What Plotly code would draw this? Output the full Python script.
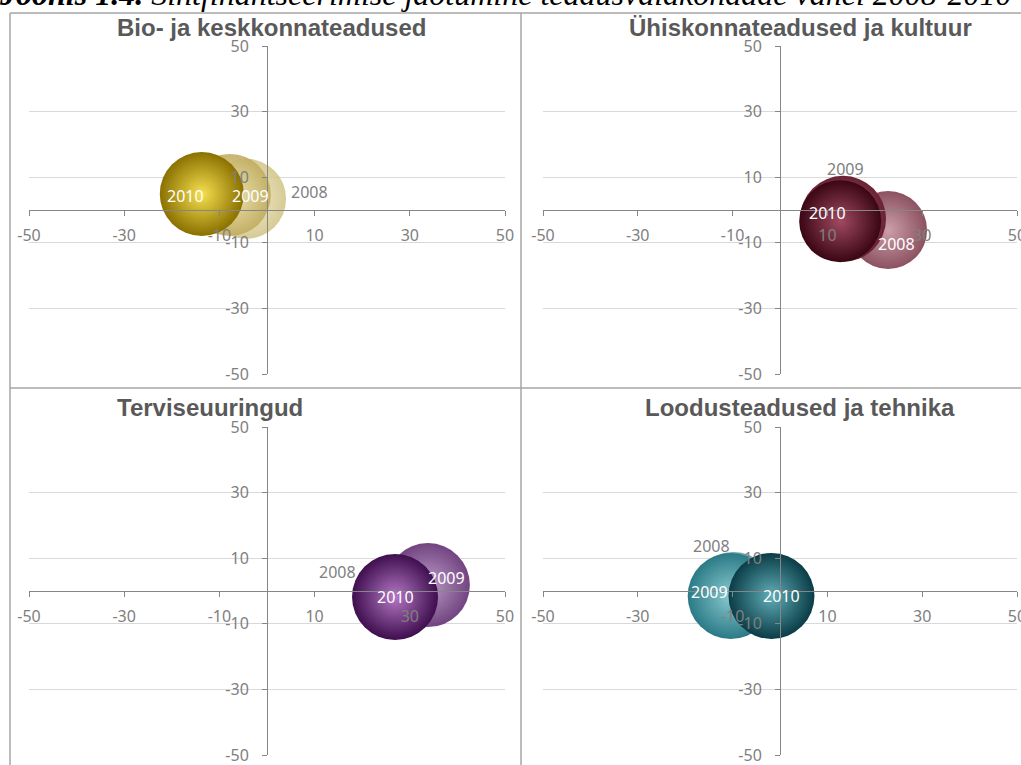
import plotly.graph_objects as go

W, H = 1021, 765

years = ["2008", "2009", "2010"]
tick_values = [-50, -30, -10, 10, 30, 50]
tick_labels = ["-50", "-30", "-10", "10", "30", "50"]

# Bio- ja keskkonnateadused
bio_x = [-4.4, -7.8, -13.7]
bio_y = [3.4, 4.6, 4.9]
bio_size = [20.0, 20.5, 21.0]

# Ühiskonnateadused ja kultuur
soc_x = [22.8, 13.3, 12.7]
soc_y = [-6.1, -2.7, -3.4]
soc_size = [19.5, 21.5, 20.5]

# Terviseuuringud
health_x = [26.9, 33.8, 26.9]
health_y = [-1.2, 1.8, -1.8]
health_size = [20.0, 21.0, 21.5]

# Loodusteadused ja tehnika
nat_x = [-9.8, -10.4, -1.8]
nat_y = [-0.9, -1.5, -1.5]
nat_size = [21.0, 21.5, 21.5]

SIZEREF = 0.25  # bubble value -> marker diameter (px)


def px_x(p):
    return p / W


def px_y(p):
    return 1 - p / H


GRAY_TXT = "#7f7f7f"
AXIS_CLR = "#868686"
GRID_CLR = "#d9d9d9"
FONT = "Noto Sans"

# styles: (centre colour, rim colour, opacity) per year
panels = [
    dict(title="Bio- ja keskkonnateadused", x=bio_x, y=bio_y, s=bio_size,
         xd=(29, 505), yd=(46, 374), title_pos=(271, 28),
         styles=[("#f0eacc", "#d0c282", 0.85), ("#eee4b0", "#c0ac5e", 0.9),
                 ("#f6e050", "#8a7000", 1.0)],
         labels=[(63, 7, GRAY_TXT), (21, -1, "white"), (-16, -2, "white")]),
    dict(title="Ühiskonnateadused ja kultuur", x=soc_x, y=soc_y, s=soc_size,
         xd=(543, 1017), yd=(46, 374), title_pos=(800, 28),
         styles=[("#c89aa6", "#864858", 0.95), ("#a85c70", "#6a2236", 1.0),
                 ("#a04a62", "#3a0614", 1.0)],
         labels=[(8, -14, "white"), (2, 50, GRAY_TXT), (-13, 8, "white")]),
    dict(title="Terviseuuringud", x=health_x, y=health_y, s=health_size,
         xd=(29, 505), yd=(427, 755), title_pos=(210, 407),
         styles=[("#b896c4", "#6e3e7e", 0.95), ("#b896c4", "#6a3a7a", 0.95),
                 ("#b478c4", "#3e0e4e", 1.0)],
         labels=[(-58, 23, GRAY_TXT), (19, 7, "white"), (0, 0, "white")]),
    dict(title="Loodusteadused ja tehnika", x=nat_x, y=nat_y, s=nat_size,
         xd=(543, 1017), yd=(427, 755), title_pos=(800, 407),
         styles=[("#acd6da", "#5a9ca4", 0.9), ("#8ccad0", "#2a7a86", 1.0),
                 ("#60aeb8", "#0a3c46", 1.0)],
         labels=[(-22, 48, GRAY_TXT), (-21, 4, "white"), (10, 0, "white")]),
]

fig = go.Figure()
annotations = []
layout_axes = {}

for i, p in enumerate(panels, start=1):
    sfx = "" if i == 1 else str(i)
    xa, ya = "x" + sfx, "y" + sfx
    xdom = [px_x(p["xd"][0]), px_x(p["xd"][1])]
    ydom = [px_y(p["yd"][1]), px_y(p["yd"][0])]
    common = dict(range=[-50, 50], tickvals=tick_values, ticktext=tick_labels,
                  ticks="outside", ticklen=5, tickcolor=AXIS_CLR,
                  showline=True, linecolor=AXIS_CLR, linewidth=1,
                  zeroline=False, fixedrange=True, automargin=False,
                  layer="above traces", ticklabeloverflow="allow",
                  tickfont=dict(family=FONT, size=16, color=GRAY_TXT))
    layout_axes["xaxis" + sfx] = dict(common, domain=xdom, anchor="free",
                                      position=sum(ydom) / 2, showgrid=False,
                                      ticklabelstandoff=6)
    layout_axes["yaxis" + sfx] = dict(common, domain=ydom, anchor="free",
                                      position=sum(xdom) / 2, showgrid=True,
                                      gridcolor=GRID_CLR, gridwidth=1,
                                      ticklabelstandoff=10)

    # bubbles, oldest year first so the newest sits on top
    for k, yr in enumerate(years):
        c_in, c_out, op = p["styles"][k]
        fig.add_trace(go.Scatter(
            x=[p["x"][k]], y=[p["y"][k]], xaxis=xa, yaxis=ya,
            mode="markers", name=yr, showlegend=False, hoverinfo="skip",
            marker=dict(size=[p["s"][k]], sizemode="diameter",
                        sizeref=SIZEREF, color=c_out, opacity=op,
                        gradient=dict(type="radial", color=c_in),
                        line=dict(width=0)),
        ))
        dx, dy, tc = p["labels"][k]
        annotations.append(dict(
            x=p["x"][k], y=p["y"][k], xref=xa, yref=ya, text=yr,
            showarrow=False, xshift=dx, yshift=dy,
            font=dict(family=FONT, size=16, color=tc)))

    annotations.append(dict(
        x=px_x(p["title_pos"][0]), y=px_y(p["title_pos"][1]),
        xref="paper", yref="paper", text=p["title"], showarrow=False,
        xanchor="center", yanchor="middle",
        font=dict(family="Liberation Sans", size=24, color="#595959",
                  weight="bold")))

# figure caption along the top edge
annotations.append(dict(
    x=px_x(-3), y=px_y(-6.5), xref="paper", yref="paper",
    text="<b>Joonis 1.4.</b> Sihtfinantseerimise jaotumine teadusvaldkondade vahel 2008-2010",
    showarrow=False, xanchor="left", yanchor="middle",
    font=dict(family="Liberation Serif", size=32, color="black",
              style="italic")))

# panel frames
BORDER = dict(color="#a6a6a6", width=1.5)
shapes = [
    dict(type="line", xref="paper", yref="paper", x0=px_x(10), x1=px_x(10),
         y0=px_y(13), y1=0, line=BORDER),
    dict(type="line", xref="paper", yref="paper", x0=px_x(521), x1=px_x(521),
         y0=px_y(13), y1=0, line=BORDER),
    dict(type="line", xref="paper", yref="paper", x0=px_x(10), x1=1,
         y0=px_y(13), y1=px_y(13), line=BORDER),
    dict(type="line", xref="paper", yref="paper", x0=px_x(10), x1=1,
         y0=px_y(388), y1=px_y(388), line=BORDER),
]

fig.update_layout(
    width=W, height=H, margin=dict(l=0, r=0, t=0, b=0),
    paper_bgcolor="white", plot_bgcolor="white",
    annotations=annotations, shapes=shapes, showlegend=False,
    **layout_axes,
)

fig.write_html("out.html")
